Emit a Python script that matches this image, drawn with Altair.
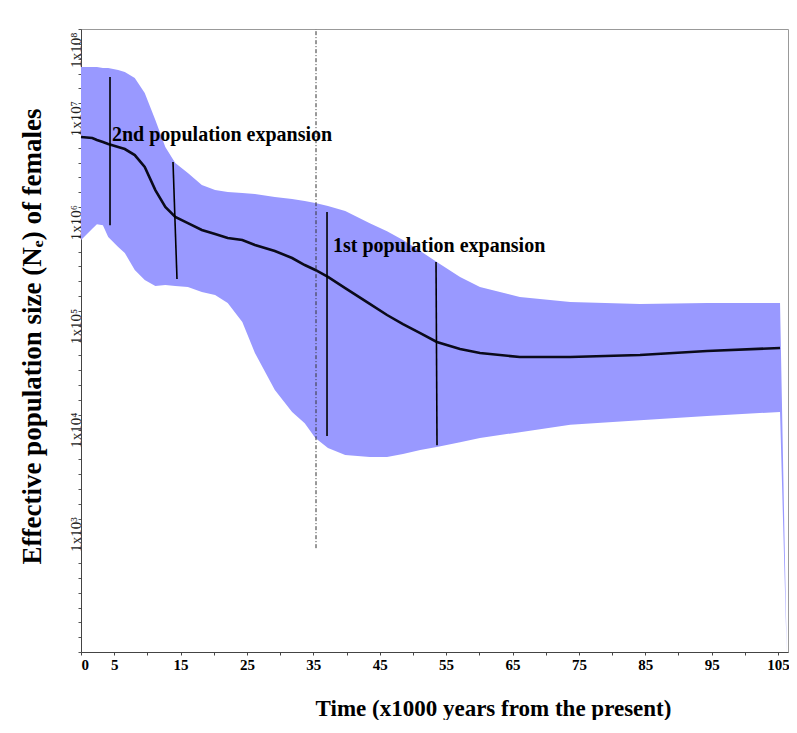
import altair as alt
import pandas as pd

# ---- data ----
time_k = [0, 1.7, 2.4, 3.3, 4.1, 5.6, 6.6, 8.1, 9.6, 11.2, 12.7, 14.2, 16.1, 18.2,
          20.2, 22.1, 24.3, 26.2, 29.2, 31.8, 33.7, 35.3, 37.2, 39.8, 43.5, 46.1,
          48.5, 51.1, 53.6, 57.1, 60.1, 66.1, 73.7, 84.2, 94.3, 105.3, 106.3]
upper_hpd = [4.30e7, 4.30e7, 4.30e7, 4.21e7, 4.21e7, 4.03e7, 3.85e7, 3.37e7, 2.42e7,
             1.33e7, 7.31e6, 5.12e6, 4.10e6, 3.15e6, 2.81e6, 2.69e6, 2.63e6, 2.57e6,
             2.41e6, 2.30e6, 2.20e6, 2.11e6, 1.97e6, 1.77e6, 1.35e6, 1.13e6, 9.29e5,
             7.28e5, 5.70e5, 4.09e5, 3.27e5, 2.62e5, 2.35e5, 2.25e5, 2.30e5, 2.30e5, 104]
median_ne = [9.12e6, 8.92e6, 8.53e6, 8.16e6, 7.80e6, 7.31e6, 6.98e6, 6.11e6, 4.69e6,
             2.81e6, 1.93e6, 1.55e6, 1.35e6, 1.16e6, 1.06e6, 9.71e5, 9.29e5, 8.32e5,
             7.28e5, 6.23e5, 5.33e5, 4.78e5, 4.09e5, 3.20e5, 2.25e5, 1.76e5, 1.44e5,
             1.18e5, 9.67e4, 8.28e4, 7.57e4, 6.93e4, 6.93e4, 7.24e4, 7.92e4, 8.47e4, None]
lower_hpd = [9.29e5, 1.19e6, 1.32e6, 1.29e6, 9.93e5, 7.95e5, 6.96e5, 4.78e5, 3.83e5,
             3.35e5, 3.42e5, 3.35e5, 3.27e5, 2.93e5, 2.74e5, 2.30e5, 1.51e5, 7.57e4,
             3.33e4, 2.05e4, 1.60e4, 1.15e4, 9.22e3, 7.89e3, 7.55e3, 7.55e3, 8.07e3,
             8.81e3, 9.42e3, 1.05e4, 1.15e4, 1.31e4, 1.54e4, 1.71e4, 1.87e4, 2.05e4, 100]

# expansion marker segments
marker_x = [4.37, 13.86, 37.06, 53.48]
marker_x2 = [4.37, 14.46, 37.06, 53.63]
marker_y = [3.45e7, 5.24e6, 1.73e6, 5.69e5]
marker_y2 = [1.29e6, 3.91e5, 1.20e4, 9.80e3]

# dashed reference line
ref_x = [35.4]
ref_y = [1e3]
ref_y2 = [1e8]

# annotations
note_text = ["2nd population expansion", "1st population expansion"]
note_x = [4.67, 37.96]
note_y = [8.34e6, 7.11e5]

x_tick_values = [0, 5, 10, 15, 20, 25, 30, 35, 40, 45, 50, 55, 60, 65, 70, 75, 80,
                 85, 90, 95, 100, 105]
y_decades = [1e2, 1e3, 1e4, 1e5, 1e6, 1e7, 1e8]
y_tick_values = [10 ** (k + j / 7) for k in range(2, 8) for j in range(7)] + [1e8]

# ---- tables ----
df = pd.DataFrame({"t": time_k, "upper": upper_hpd, "lower": lower_hpd, "median": median_ne})
df_line = df.dropna(subset=["median"])
df_markers = pd.DataFrame({"x": marker_x, "x2": marker_x2, "y": marker_y, "y2": marker_y2})
df_ref = pd.DataFrame({"x": ref_x, "y": ref_y, "y2": ref_y2})
df_notes = pd.DataFrame({"label": note_text, "x": note_x, "y": note_y})

SERIF = "Liberation Serif"

x_scale = alt.Scale(domain=[0, 106.5], nice=False, zero=False)
y_scale = alt.Scale(type="log", domain=[1e2, 1e8], nice=False)

x_axis = alt.Axis(
    values=x_tick_values,
    labelExpr="datum.value == 0 || datum.value % 10 == 5 ? datum.label : ''",
    format="d",
    title="Time (x1000 years from the present)",
    grid=False, tickSize=3, tickColor="#444", domainColor="#444",
    labelFont=SERIF, labelFontWeight="bold", labelFontSize=15, labelColor="black",
    labelPadding=2, labelFlush=True, labelOverlap=False,
    titleFont=SERIF, titleFontSize=23, titleFontWeight="bold", titleColor="black",
    titleX=412, titleY=63, titleAlign="center", titleBaseline="alphabetic",
)

sup = "['⁰','¹','²','³','⁴','⁵','⁶','⁷','⁸']"
y_label_expr = (
    "abs(log(datum.value)/LN10 - round(log(datum.value)/LN10)) < 0.01 && "
    "round(log(datum.value)/LN10) >= 3 ? '1x10' + " + sup +
    "[round(log(datum.value)/LN10)] : ''"
)
y_axis = alt.Axis(
    values=y_tick_values,
    labelExpr=y_label_expr,
    title="Effective population size (Nₑ) of females",
    grid=False, tickSize=3, tickColor="#555", domainColor="#444",
    labelFont=SERIF, labelFontSize=15, labelColor="#222",
    labelAngle=270,
    labelAlign={"condition": {"test": "datum.value >= 9e7", "value": "right"}, "value": "left"},
    labelBaseline="middle",
    labelPadding=3, labelOffset=3, labelOverlap=False, labelFlush=False, labelBound=False,
    titleFont=SERIF, titleFontSize=27, titleFontWeight="bold", titleColor="black",
    titleAngle=270, titleX=-41, titleY=307, titleAlign="center", titleBaseline="alphabetic",
)

band = alt.Chart(df).mark_area(color="#9999ff", opacity=1).encode(
    x=alt.X("t:Q", scale=x_scale, axis=x_axis),
    y=alt.Y("upper:Q", scale=y_scale, axis=y_axis),
    y2="lower:Q",
)

line = alt.Chart(df_line).mark_line(color="#0a0a1a", strokeWidth=2.6).encode(
    x=alt.X("t:Q", scale=x_scale, axis=x_axis),
    y=alt.Y("median:Q", scale=y_scale, axis=y_axis),
)

ref = alt.Chart(df_ref).mark_rule(color="#333", strokeWidth=1, strokeDash=[4, 2, 1, 2]).encode(
    x=alt.X("x:Q", scale=x_scale, axis=x_axis),
    y=alt.Y("y:Q", scale=y_scale, axis=y_axis),
    y2="y2:Q",
)

markers = alt.Chart(df_markers).mark_rule(color="black", strokeWidth=1.6).encode(
    x=alt.X("x:Q", scale=x_scale, axis=x_axis),
    x2="x2:Q",
    y=alt.Y("y:Q", scale=y_scale, axis=y_axis),
    y2="y2:Q",
)

notes = alt.Chart(df_notes).mark_text(
    align="left", baseline="alphabetic", font=SERIF, fontWeight="bold",
    fontSize=20, color="black"
).encode(
    x=alt.X("x:Q", scale=x_scale, axis=x_axis),
    y=alt.Y("y:Q", scale=y_scale, axis=y_axis),
    text="label:N",
)

chart = alt.layer(band, line, ref, markers, notes).properties(
    width=707, height=623,
    autosize=alt.AutoSizeParams(type="none"),
    padding={"left": 73, "top": 21, "right": 1, "bottom": 68},
    background="white",
).configure_view(stroke="#999", strokeWidth=1)

chart.save("out.html", embed_options={"renderer": "svg", "actions": False})
